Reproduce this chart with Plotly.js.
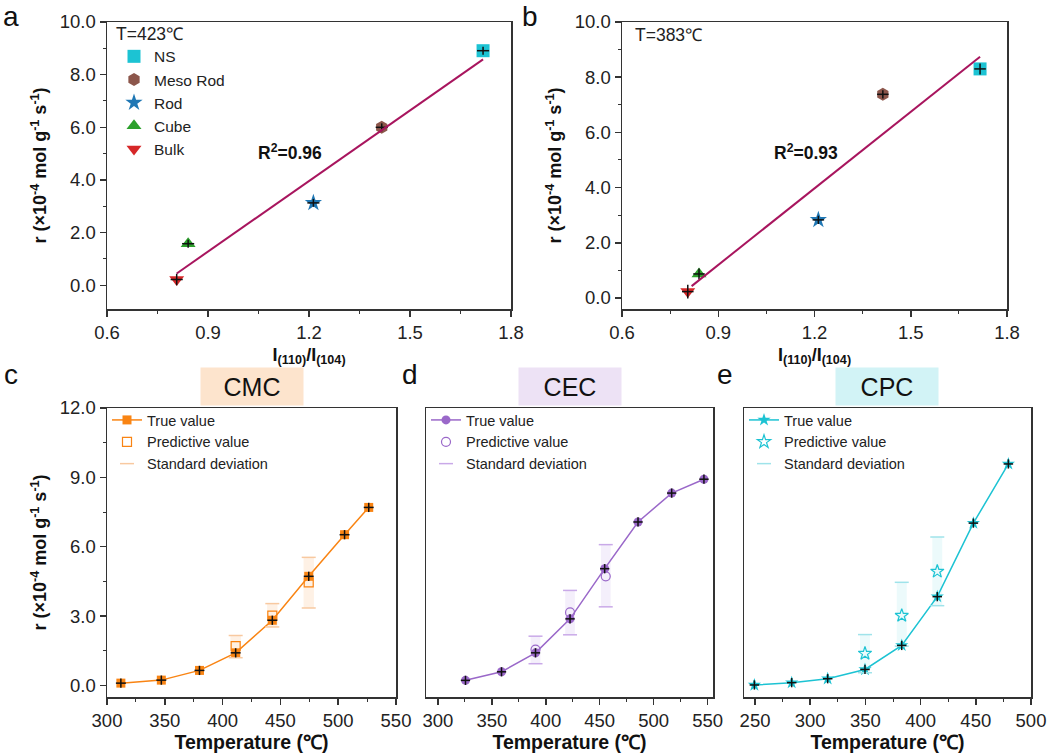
<!DOCTYPE html>
<html>
<head>
<meta charset="utf-8">
<script src="https://cdn.plot.ly/plotly-3.0.1.min.js"></script>
<style>
  html, body { margin: 0; padding: 0; background: #fff; }
  #myPlot { width: 1048px; height: 753px; }
</style>
</head>
<body>
<div id="myPlot"></div>
<script>
// ---- panel a / b : rate vs I(110)/I(104) ----
var samples = ['NS', 'Meso Rod', 'Rod', 'Cube', 'Bulk'];
var ratioA = [1.717, 1.416, 1.213, 0.841, 0.807];
var rateA = [8.91, 6.00, 3.13, 1.58, 0.22];
var errA = [0.15, 0.15, 0.15, 0.15, 0.22];
var ratioB = [1.716, 1.413, 1.212, 0.840, 0.805];
var rateB = [8.30, 7.38, 2.83, 0.87, 0.23];
var errB = [0.2, 0.15, 0.15, 0.2, 0.25];
var fitAX = [0.807, 1.717];
var fitAY = [0.45, 8.58];
var fitBX = [0.817, 1.716];
var fitBY = [0.43, 8.74];
var r2A = 'R<sup>2</sup>=0.96';
var r2B = 'R<sup>2</sup>=0.93';

// ---- panel c : CMC ----
var tempC = [312, 347, 380, 411.3, 443, 474.5, 505.5, 526.4];
var rateC = [0.10, 0.23, 0.65, 1.41, 2.82, 4.72, 6.52, 7.70];
var predTempC = [411.3, 443, 474.5];
var predC = [1.70, 3.02, 4.46];
var sdHighC = [2.16, 3.54, 5.54];
var sdLowC = [1.20, 2.53, 3.35];

// ---- panel d : CEC ----
var tempD = [325.6, 359, 390.5, 422.5, 454.6, 485.5, 516.7, 546.6];
var rateD = [0.22, 0.59, 1.41, 2.88, 5.05, 7.07, 8.32, 8.92];
var predTempD = [390.5, 422.5, 455.6];
var predD = [1.55, 3.16, 4.72];
var sdHighD = [2.13, 4.11, 6.09];
var sdLowD = [0.94, 2.19, 3.40];

// ---- panel e : CPC ----
var tempE = [249.4, 283.2, 315.8, 349.6, 382.9, 415.1, 447.8, 479.5];
var rateE = [0.02, 0.12, 0.29, 0.69, 1.73, 3.84, 7.02, 9.58];
var predTempE = [349.6, 382.9, 415.1];
var predE = [1.38, 3.02, 4.93];
var sdHighE = [2.20, 4.46, 6.42];
var sdLowE = [0.55, 1.70, 3.45];

// styles
var sampleColors = ['#1cc3d3', '#8c564b', '#1f77b4', '#2ca02c', '#d62728'];
var sampleSymbols = ['square', 'hexagon', 'star', 'triangle-up', 'triangle-down'];
var FONT = 'Liberation Sans, Arial, sans-serif';

function pw(px) { return px / 1048; }
function ph(px) { return 1 - px / 753; }

function crossTrace(x, y, ex, ey, xa, ya) {
    return {
        x: x, y: y, xaxis: xa, yaxis: ya,
        mode: 'markers', type: 'scatter',
        marker: { opacity: 0, size: 1 },
        error_x: { type: 'constant', value: ex, width: 0, color: '#111', thickness: 1.5 },
        error_y: { type: 'data', array: ey, width: 0, color: '#111', thickness: 1.5 },
        showlegend: false, hoverinfo: 'skip'
    };
}

function ratioTraces(x, y, err, xa, ya, legendOn) {
    var out = [];
    for (var i = 0; i < samples.length; ++i) {
        out.push({
            x: [x[i]], y: [y[i]], xaxis: xa, yaxis: ya,
            mode: 'markers', type: 'scatter', name: samples[i],
            marker: { symbol: sampleSymbols[i], color: sampleColors[i], size: 13 },
            showlegend: legendOn, legend: 'legend'
        });
    }
    out.push(crossTrace(x, y, 0.018, err, xa, ya));
    return out;
}

function tempTraces(t, r, pt, p, hi, lo, color, fill, cap, sym, size, xa, ya, lg) {
    var heights = [];
    for (var i = 0; i < hi.length; ++i) heights.push(hi[i] - lo[i]);
    var errs = [];
    for (var i = 0; i < t.length; ++i) errs.push(0.2);
    return [
        {   // shaded std band
            x: pt, y: heights, base: lo, xaxis: xa, yaxis: ya, type: 'bar', width: 9,
            marker: { color: fill, line: { width: 0 } },
            showlegend: false, hoverinfo: 'skip'
        },
        {
            x: t, y: r, xaxis: xa, yaxis: ya, type: 'scatter', mode: 'lines+markers',
            name: 'True value', legend: lg,
            line: { color: color, width: 1.5 },
            marker: { symbol: sym, color: color, size: size }
        },
        {
            x: pt, y: p, xaxis: xa, yaxis: ya, type: 'scatter', mode: 'markers',
            name: 'Predictive value', legend: lg,
            marker: { symbol: sym + '-open', color: color, size: size, line: { color: color, width: 1.2 } }
        },
        {
            x: pt.concat(pt), y: hi.concat(lo), xaxis: xa, yaxis: ya, type: 'scatter', mode: 'markers',
            name: 'Standard deviation', legend: lg,
            marker: { symbol: 'line-ew', size: 10, color: cap, line: { color: cap, width: 1.5 } }
        },
        crossTrace(t, r, 4.3, errs, xa, ya)
    ];
}

function axisBase(extra) {
    var a = {
        showline: true, mirror: true, linecolor: '#333', linewidth: 1.5,
        ticks: 'outside', ticklen: 6, tickwidth: 1.5, tickcolor: '#333',
        tickfont: { family: FONT, size: 18.5, color: '#222' },
        zeroline: false, showgrid: false,
        minor: { ticks: 'outside', ticklen: 3, tickwidth: 1, tickcolor: '#333' }
    };
    for (var k in extra) a[k] = extra[k];
    return a;
}

var yTitle = 'r (×10<sup>-4</sup> mol g<sup>-1</sup> s<sup>-1</sup>)';
var ratioTitle = 'I<sub>(110)</sub>/I<sub>(104)</sub>';
var tempTitle = 'Temperature (℃)';
var titleFont = { family: FONT, size: 18, color: '#111', weight: 'bold' };
var tempTitleFont = { family: FONT, size: 19.5, color: '#111', weight: 'bold' };

var data = []
    .concat(ratioTraces(ratioA, rateA, errA, 'x', 'y', true))
    .concat([{ x: fitAX, y: fitAY, xaxis: 'x', yaxis: 'y', mode: 'lines', type: 'scatter',
               line: { color: '#a8155e', width: 2 }, showlegend: false }])
    .concat(ratioTraces(ratioB, rateB, errB, 'x2', 'y2', false))
    .concat([{ x: fitBX, y: fitBY, xaxis: 'x2', yaxis: 'y2', mode: 'lines', type: 'scatter',
               line: { color: '#a8155e', width: 2 }, showlegend: false }])
    .concat(tempTraces(tempC, rateC, predTempC, predC, sdHighC, sdLowC,
        '#f98413', 'rgba(252,200,150,0.25)', '#f8c9a0', 'square', 9, 'x3', 'y3', 'legend2'))
    .concat(tempTraces(tempD, rateD, predTempD, predD, sdHighD, sdLowD,
        '#9a68c9', 'rgba(205,180,235,0.22)', '#c9a9e8', 'circle', 9, 'x4', 'y4', 'legend3'))
    .concat(tempTraces(tempE, rateE, predTempE, predE, sdHighE, sdLowE,
        '#1cc3d3', 'rgba(160,230,236,0.2)', '#9fe3ea', 'star', 10, 'x5', 'y5', 'legend4'));

var legendBase = {
    xanchor: 'left', yanchor: 'top', bgcolor: 'rgba(0,0,0,0)',
    font: { family: FONT, size: 14.5, color: '#222' }, tracegroupgap: 0, itemwidth: 30
};
function legendAt(x, y, extra) {
    var l = { x: x, y: y };
    for (var k in legendBase) l[k] = legendBase[k];
    for (var k in extra) l[k] = extra[k];
    return l;
}

function label(text, x, y) {
    return { text: text, xref: 'paper', yref: 'paper', x: pw(x), y: ph(y), showarrow: false,
             xanchor: 'center', yanchor: 'middle', font: { family: FONT, size: 28, color: '#111' } };
}
function tag(text, x, y, bg) {
    return { text: text, xref: 'paper', yref: 'paper', x: pw(x), y: ph(y), showarrow: false,
             xanchor: 'center', yanchor: 'middle', width: 100, height: 35, bgcolor: bg,
             font: { family: FONT, size: 25, color: '#111' } };
}

var layout = {
    width: 1048, height: 753,
    margin: { l: 0, r: 0, t: 0, b: 0 },
    paper_bgcolor: '#fff', plot_bgcolor: '#fff',
    font: { family: FONT },
    xaxis: axisBase({ domain: [pw(107), pw(511)], anchor: 'y', range: [0.6, 1.8], dtick: 0.3, tick0: 0.6,
        tickformat: '.1f', minor: { dtick: 0.15, ticks: 'outside', ticklen: 3, tickwidth: 1, tickcolor: '#333' },
        title: { text: ratioTitle, font: titleFont, standoff: 6 } }),
    yaxis: axisBase({ domain: [ph(309), ph(22)], anchor: 'x', range: [-0.9, 10], dtick: 2, tick0: 0,
        tickformat: '.1f', minor: { dtick: 1, ticks: 'outside', ticklen: 3, tickwidth: 1, tickcolor: '#333' },
        title: { text: yTitle, font: titleFont, standoff: 8 } }),
    xaxis2: axisBase({ domain: [pw(622), pw(1007)], anchor: 'y2', range: [0.6, 1.8], dtick: 0.3, tick0: 0.6,
        tickformat: '.1f', minor: { dtick: 0.15, ticks: 'outside', ticklen: 3, tickwidth: 1, tickcolor: '#333' },
        title: { text: ratioTitle, font: titleFont, standoff: 6 } }),
    yaxis2: axisBase({ domain: [ph(309), ph(22)], anchor: 'x2', range: [-0.4, 10], dtick: 2, tick0: 0,
        tickformat: '.1f', minor: { dtick: 1, ticks: 'outside', ticklen: 3, tickwidth: 1, tickcolor: '#333' },
        title: { text: yTitle, font: titleFont, standoff: 8 } }),
    xaxis3: axisBase({ domain: [pw(107), pw(396)], anchor: 'y3', range: [300, 550], dtick: 50, tick0: 300,
        minor: { dtick: 25, ticks: 'outside', ticklen: 3, tickwidth: 1, tickcolor: '#333' },
        title: { text: tempTitle, font: tempTitleFont, standoff: 6 } }),
    yaxis3: axisBase({ domain: [ph(697), ph(408)], anchor: 'x3', range: [-0.5, 12], dtick: 3, tick0: 0,
        tickformat: '.1f', minor: { dtick: 1.5, ticks: 'outside', ticklen: 3, tickwidth: 1, tickcolor: '#333' },
        title: { text: yTitle, font: titleFont, standoff: 8 } }),
    xaxis4: axisBase({ domain: [pw(426), pw(713)], anchor: 'y4', range: [289, 555], dtick: 50, tick0: 300,
        minor: { dtick: 25, ticks: 'outside', ticklen: 3, tickwidth: 1, tickcolor: '#333' },
        title: { text: tempTitle, font: tempTitleFont, standoff: 6 } }),
    yaxis4: axisBase({ domain: [ph(697), ph(408)], anchor: 'x4', range: [-0.5, 12],
        ticks: '', showticklabels: false, minor: { ticks: '' } }),
    xaxis5: axisBase({ domain: [pw(744), pw(1031)], anchor: 'y5', range: [240, 500], dtick: 50, tick0: 250,
        minor: { dtick: 25, ticks: 'outside', ticklen: 3, tickwidth: 1, tickcolor: '#333' },
        title: { text: tempTitle, font: tempTitleFont, standoff: 6 } }),
    yaxis5: axisBase({ domain: [ph(697), ph(408)], anchor: 'x5', range: [-0.5, 12],
        ticks: '', showticklabels: false, minor: { ticks: '' } }),
    legend: legendAt(pw(114), ph(17), { font: { family: FONT, size: 15.5, color: '#222' },
        title: { text: 'T=423℃', font: { family: FONT, size: 17.5, color: '#222' } } }),
    legend2: legendAt(pw(107), ph(404), {}),
    legend3: legendAt(pw(426), ph(404), {}),
    legend4: legendAt(pw(744), ph(404), {}),
    showlegend: true,
    annotations: [
        label('a', 11, 17), label('b', 530, 17), label('c', 11, 374), label('d', 410, 374), label('e', 725, 374),
        { text: 'T=383℃', xref: 'paper', yref: 'paper', x: pw(633), y: ph(35), xanchor: 'left', yanchor: 'middle',
          showarrow: false, font: { family: FONT, size: 17.5, color: '#222' } },
        { text: '<b>' + r2A + '</b>', xref: 'x', yref: 'y', x: 1.143, y: 5.05, showarrow: false,
          font: { family: FONT, size: 17.5, color: '#111' } },
        { text: '<b>' + r2B + '</b>', xref: 'x2', yref: 'y2', x: 1.174, y: 5.3, showarrow: false,
          font: { family: FONT, size: 17.5, color: '#111' } },
        tag('CMC', 252, 386, '#fde4cd'),
        tag('CEC', 570, 386, '#ede2f5'),
        tag('CPC', 887, 386, '#d2f3f6')
    ]
};

var config = { staticPlot: true, displayModeBar: false };
Plotly.newPlot('myPlot', data, layout, config);
</script>
</body>
</html>
